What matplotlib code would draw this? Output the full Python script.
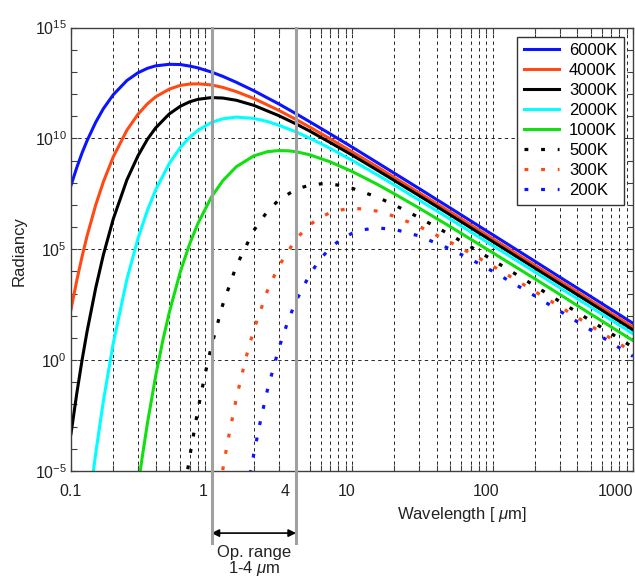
import matplotlib
matplotlib.use("Agg")
import matplotlib.pyplot as plt
from matplotlib.ticker import FixedLocator, FixedFormatter, LogLocator, NullFormatter
from matplotlib.transforms import ScaledTranslation

plt.rcParams["font.family"] = ["Liberation Sans", "DejaVu Sans"]
plt.rcParams["mathtext.fontset"] = "custom"
plt.rcParams["mathtext.rm"] = "Liberation Sans"
plt.rcParams["mathtext.it"] = "Liberation Sans:italic"

# wavelength [um] and log10(radiancy)
wl_hot = [0.1, 0.11, 0.12, 0.13, 0.15, 0.17, 0.2, 0.25, 0.3, 0.35, 0.4, 0.5, 0.6, 0.7,
          0.8, 1, 1.2, 1.5, 2, 3, 4, 5, 7, 10, 15, 20, 30, 50, 100, 200, 300, 500, 1000]
lg_6000 = [7.88, 8.69, 9.35, 9.89, 10.73, 11.34, 11.97, 12.61, 12.96, 13.16, 13.27, 13.34,
           13.33, 13.26, 13.18, 12.99, 12.80, 12.53, 12.15, 11.56, 11.11, 10.75, 10.20, 9.61,
           8.92, 8.43, 7.74, 6.86, 5.66, 4.46, 3.75, 2.87, 1.66]
lg_4000 = [2.28, 3.60, 4.68, 5.59, 7.00, 8.04, 9.17, 10.37, 11.09, 11.56, 11.87, 12.22,
           12.39, 12.45, 12.46, 12.41, 12.30, 12.11, 11.80, 11.27, 10.85, 10.51, 9.98, 9.40,
           8.73, 8.24, 7.55, 6.68, 5.48, 4.28, 3.58, 2.69, 1.49]
lg_3000 = [-3.32, -1.49, 0.02, 1.28, 3.26, 4.75, 6.37, 8.13, 9.22, 9.96, 10.47, 11.10,
           11.45, 11.65, 11.76, 11.84, 11.82, 11.72, 11.49, 11.03, 10.65, 10.33, 9.81, 9.25,
           8.58, 8.10, 7.42, 6.55, 5.35, 4.15, 3.45, 2.57, 1.36]

wl_2000 = [0.14, 0.15, 0.17, 0.2, 0.25, 0.3, 0.35, 0.4, 0.5, 0.6, 0.7, 0.8, 1, 1.2, 1.5, 2,
           2.5, 3, 4, 5, 7, 10, 15, 20, 30, 50, 100, 200, 300, 500, 1000]
lg_2000 = [-5.65, -4.20, -1.84, 0.77, 3.65, 5.49, 6.76, 7.67, 8.86, 9.59, 10.05, 10.36,
           10.72, 10.88, 10.96, 10.90, 10.76, 10.60, 10.29, 10.01, 9.55, 9.01, 8.37, 7.90,
           7.22, 6.36, 5.17, 3.98, 3.27, 2.39, 1.19]

wl_1000 = [0.3, 0.32, 0.35, 0.4, 0.45, 0.5, 0.6, 0.7, 0.8, 1, 1.2, 1.5, 2, 2.5, 3, 3.5, 4,
           5, 7, 10, 15, 20, 30, 50, 100, 200, 300, 500, 1000]
lg_1000 = [-5.71, -4.45, -2.84, -0.73, 0.88, 2.14, 3.99, 5.25, 6.16, 7.36, 8.08, 8.72,
           9.21, 9.40, 9.45, 9.44, 9.40, 9.26, 8.94, 8.51, 7.94, 7.50, 6.86, 6.02, 4.85,
           3.67, 2.97, 2.08, 0.88]

wl_500 = [0.65, 0.7, 0.8, 0.9, 1, 1.2, 1.5, 2, 2.5, 3, 4, 5, 6, 7, 8, 10, 15, 20, 30, 50,
          70, 100, 200, 300, 500, 1000]
lg_500 = [-5.66, -4.35, -2.24, -0.63, 0.64, 2.48, 4.24, 5.85, 6.71, 7.21, 7.71, 7.89, 7.95,
          7.94, 7.89, 7.75, 7.36, 7.00, 6.43, 5.65, 5.11, 4.52, 3.35, 2.65, 1.78, 0.58]

wl_300 = [1.15, 1.2, 1.3, 1.5, 1.75, 2, 2.5, 3, 4, 5, 6, 7, 8, 10, 12, 15, 20, 30, 50, 70,
          100, 200, 300, 500, 1000]
lg_300 = [-5.70, -4.98, -3.72, -1.74, 0.06, 1.37, 3.13, 4.22, 5.47, 6.10, 6.45, 6.65, 6.76,
          6.84, 6.82, 6.72, 6.49, 6.03, 5.32, 4.81, 4.25, 3.10, 2.42, 1.55, 0.35]

wl_200 = [1.8, 1.9, 2, 2.25, 2.5, 3, 3.5, 4, 5, 6, 7, 8, 10, 12, 15, 20, 30, 50, 70, 100,
          200, 300, 500, 1000]
lg_200 = [-5.87, -5.00, -4.23, -2.62, -1.35, 0.49, 1.76, 2.67, 3.86, 4.59, 5.05, 5.36, 5.72,
          5.88, 5.96, 5.90, 5.60, 5.01, 4.55, 4.01, 2.90, 2.22, 1.36, 0.17]

series = [
    ("6000K", wl_hot, lg_6000, "#0a14ff", "-"),
    ("4000K", wl_hot, lg_4000, "#ff4a14", "-"),
    ("3000K", wl_hot, lg_3000, "#000000", "-"),
    ("2000K", wl_2000, lg_2000, "#00ffff", "-"),
    ("1000K", wl_1000, lg_1000, "#10e010", "-"),
    ("500K", wl_500, lg_500, "#000000", ":"),
    ("300K", wl_300, lg_300, "#ff4a14", ":"),
    ("200K", wl_200, lg_200, "#0a14ff", ":"),
]

x_ticks = [0.1, 1, 4, 10, 100, 1000]
x_ticklabels = ["0.1", "1", "4", "10", "100", "1000"]
y_ticks = [1e-5, 1e0, 1e5, 1e10, 1e15]
y_ticklabels = [r"$\mathregular{10^{-5}}$", r"$\mathregular{10^{0}}$",
                r"$\mathregular{10^{5}}$", r"$\mathregular{10^{10}}$",
                r"$\mathregular{10^{15}}$"]
op_range = (1, 4)

fig = plt.figure(figsize=(6.35, 5.8), dpi=100)
ax = fig.add_axes([71 / 635, 1 - 471 / 580, 562 / 635, 443.5 / 580])

for name, wl, lg, col, style in series:
    vals = [10 ** v for v in lg]
    if style == "-":
        ax.plot(wl, vals, color=col, lw=2.2, label=name)
    else:
        ax.plot(wl, vals, color=col, lw=2.3, ls=(0, (1.2, 4.0)), label=name)

ax.set_xscale("log")
ax.set_yscale("log")
ax.set_xlim(0.1, 1000)
ax.set_ylim(1e-5, 1e15)

ax.xaxis.set_major_locator(FixedLocator(x_ticks))
ax.xaxis.set_major_formatter(FixedFormatter(x_ticklabels))
ax.xaxis.set_minor_locator(LogLocator(base=10, subs=range(2, 10), numticks=50))
ax.xaxis.set_minor_formatter(NullFormatter())
ax.yaxis.set_major_locator(FixedLocator(y_ticks))
ax.yaxis.set_major_formatter(FixedFormatter(y_ticklabels))
ax.yaxis.set_minor_locator(FixedLocator([10.0 ** k for k in range(-5, 16)]))
ax.yaxis.set_minor_formatter(NullFormatter())

ax.tick_params(which="both", direction="in", top=True, right=True, length=4,
               width=0.8, color="#404040", labelsize=11.5, labelcolor="#222222")
ax.tick_params(axis="x", pad=9)
ax.tick_params(axis="y", pad=3)

# the x labels sit a little left of their ticks, clear of the grey range lines
shifts = [0, -8, -11, -5, -6, 0]
for lab, dx in zip(ax.get_xticklabels(), shifts):
    lab.set_transform(lab.get_transform() + ScaledTranslation(dx / 100, 0, fig.dpi_scale_trans))
ax.get_xticklabels()[-1].set_horizontalalignment("right")

ax.grid(True, which="major", ls=(0, (4, 4)), lw=0.6, color="k")
ax.grid(True, which="minor", axis="x", ls=(0, (4, 4)), lw=0.6, color="k")
ax.set_axisbelow(True)
for sp in ax.spines.values():
    sp.set_color("#404040")
    sp.set_linewidth(1.0)

leg = ax.legend(loc="upper right", fontsize=12, handlelength=2.1, handletextpad=0.6,
                labelspacing=0.3, borderpad=0.4, borderaxespad=0.55,
                fancybox=False, framealpha=1, edgecolor="#333333")
leg.get_frame().set_linewidth(1.0)

# operating range markers
xt = ax.get_xaxis_transform()
for xv in op_range:
    ax.plot([xv, xv], [-0.162, 1], transform=xt, color="#a0a0a0", lw=2.2,
            clip_on=False, zorder=5)
ax.annotate("", xy=(op_range[0], -0.14), xytext=(op_range[1], -0.14), xycoords=xt,
            arrowprops=dict(arrowstyle="<|-|>", color="k", lw=1.2, shrinkA=0, shrinkB=0,
                            mutation_scale=11))
fig.text(254.5 / 635, 1 - 552 / 580, "Op. range", ha="center", va="center",
         fontsize=12, color="#222222")
fig.text(254.5 / 635, 1 - 569 / 580, r"1-4 $\mu$m", ha="center", va="center",
         fontsize=12, color="#222222")

fig.text(462 / 635, 1 - 515 / 580, r"Wavelength [ $\mu$m]", ha="center", va="center",
         fontsize=12, color="#222222")
fig.text(19 / 635, 1 - 251 / 580, "Radiancy", ha="center", va="center", rotation=90,
         fontsize=12, color="#222222")

fig.savefig("out.png", dpi=100)
